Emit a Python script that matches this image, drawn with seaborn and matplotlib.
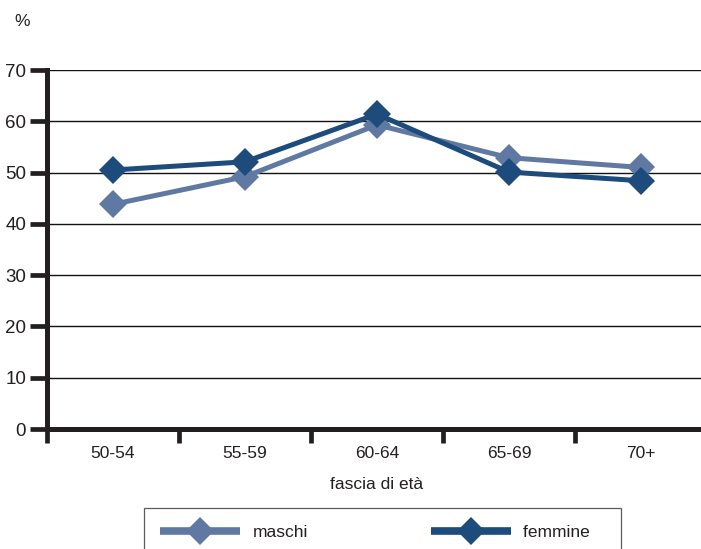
import matplotlib
matplotlib.use("Agg")
import matplotlib.pyplot as plt
import seaborn as sns
import pandas as pd
from matplotlib.lines import Line2D

categories = ["50-54", "55-59", "60-64", "65-69", "70+"]
maschi = [43.8, 49.2, 59.3, 52.9, 51.0]
femmine = [50.5, 52.1, 61.4, 50.1, 48.4]
series_names = ["maschi", "femmine"]
colors = {"maschi": "#6079A3", "femmine": "#1C4B7C"}
y_ticks = [0, 10, 20, 30, 40, 50, 60, 70]

sns.set_theme(style="white")
plt.rcParams["font.family"] = ["Liberation Sans", "DejaVu Sans"]

df = pd.DataFrame({
    "fascia": categories * 2,
    "valore": maschi + femmine,
    "sesso": ["maschi"] * len(categories) + ["femmine"] * len(categories),
})

fig = plt.figure(figsize=(7.01, 5.49), dpi=100)
ax = fig.add_axes([47 / 701, 1 - 429 / 549, 660 / 701, 359 / 549])

sns.lineplot(data=df, x="fascia", y="valore", hue="sesso", hue_order=series_names,
             palette=colors, marker="D", markersize=14, linewidth=3.6,
             markeredgewidth=0, ax=ax, legend=False, sort=False, zorder=3)

ax.set_xlim(-0.5, 4.5)
ax.set_ylim(0, 70)
ax.set_yticks(y_ticks)
ax.set_yticklabels([str(v) for v in y_ticks], fontsize=13.5, color="#231F20")
for v in y_ticks[1:]:
    ax.axhline(v, color="#111111", linewidth=1.0, zorder=1)

ax.set_xticks(range(len(categories)))
ax.set_xticklabels(categories, fontsize=12.5, color="#231F20")
ax.tick_params(axis="x", which="major", bottom=True, length=0, pad=12)
ax.set_xticks([-0.5, 0.5, 1.5, 2.5, 3.5], minor=True)
ax.tick_params(axis="x", which="minor", bottom=True, length=10, width=3.4,
               color="#231F20", direction="out")
ax.tick_params(axis="y", which="major", left=True, length=12, width=3.4,
               color="#231F20", direction="out", pad=3)

for s in ["top", "right"]:
    ax.spines[s].set_visible(False)
for s in ["left", "bottom"]:
    ax.spines[s].set_linewidth(3.6)
    ax.spines[s].set_color("#231F20")

ax.set_xlabel("fascia di età", fontsize=12.5, color="#231F20", labelpad=12)
ax.set_ylabel("")
fig.text(14 / 701, 1 - 21 / 549, "%", fontsize=12.5, color="#231F20", va="center")

handles = [Line2D([0], [0], color=colors[n], linewidth=5.5, marker="D", markersize=14,
                  markeredgewidth=0, solid_capstyle="butt") for n in series_names]
legend_labels = [series_names[0], series_names[1] + "   "]
leg = fig.legend(handles, legend_labels, loc="upper left",
                 bbox_to_anchor=(144 / 701, 1 - 508 / 549), ncol=2, borderaxespad=0,
                 fontsize=12.5, frameon=True, fancybox=False, edgecolor="#333333",
                 handlelength=4.6, columnspacing=7.1, borderpad=0.95, handletextpad=0.7)
leg.get_frame().set_linewidth(0.9)
for t in leg.get_texts():
    t.set_color("#231F20")

fig.savefig("out.png", dpi=100)
